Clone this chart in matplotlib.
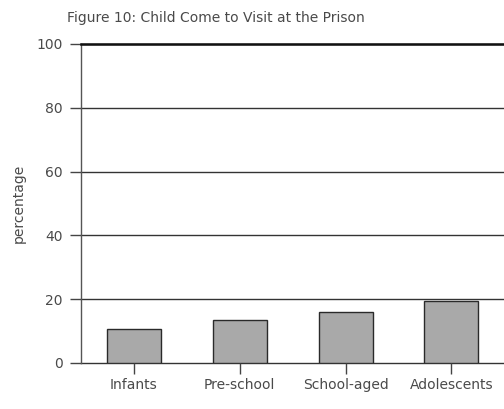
import matplotlib
matplotlib.use("Agg")
import matplotlib.pyplot as plt

categories = ["Infants", "Pre-school", "School-aged", "Adolescents"]
values = [10.5, 13.5, 16.0, 19.5]
yticks = [0, 20, 40, 60, 80, 100]

plt.rcParams['font.family'] = ['DejaVu Sans']

fig = plt.figure(figsize=(5.04, 4.09), dpi=100)
ax = fig.add_axes([0.1607, 0.1125, 0.84, 0.78])

x = range(len(categories))
ax.bar(x, values, width=0.51, color="#a9a9a9", edgecolor="#2a2a2a", linewidth=1.0, zorder=3)

ax.set_xlim(-0.5, 3.5)
ax.set_ylim(0, 100)
ax.set_yticks(yticks)
ax.set_yticklabels([str(t) for t in yticks], fontsize=10, color="#4a4a4a")
ax.set_xticks(list(x))
ax.set_xticklabels(categories, fontsize=10, color="#4a4a4a")
for t in yticks:
    ax.axhline(t, color="#333333", linewidth=1.0, zorder=1, clip_on=False)
ax.axhline(100, color="#111111", linewidth=1.8, zorder=4, clip_on=False)

for s in ["top", "right", "bottom"]:
    ax.spines[s].set_visible(False)
ax.spines["left"].set_color("#555555")
ax.spines["left"].set_linewidth(1.0)
ax.tick_params(axis="y", length=8, width=1, color="#444444", pad=5)
ax.tick_params(axis="x", length=8, width=1, color="#444444", pad=3)

ax.set_ylabel("percentage", fontsize=10, color="#4a4a4a", labelpad=8)
fig.text(0.133, 0.957, "Figure 10: Child Come to Visit at the Prison", fontsize=10, color="#4a4a4a", ha="left", va="center")

fig.savefig("out.png", dpi=100)
